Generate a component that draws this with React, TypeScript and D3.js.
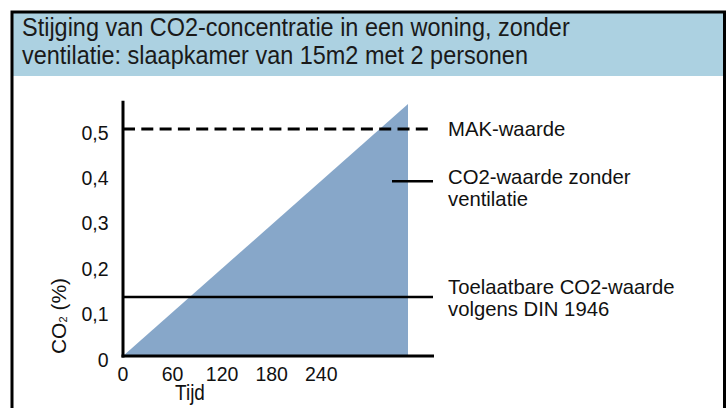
import React, { useRef, useEffect } from "react";
import * as d3 from "d3";

// chart data
const titleLines = [
  "Stijging van CO2-concentratie in een woning, zonder",
  "ventilatie: slaapkamer van 15m2 met 2 personen",
];
const timeTicks = [0, 60, 120, 180, 240];
const co2Ticks = [0, 0.1, 0.2, 0.3, 0.4, 0.5];
const co2TickLabels = ["0", "0,1", "0,2", "0,3", "0,4", "0,5"];
const riseTime = [0, 345];
const riseCo2 = [0, 0.555];
const makValue = 0.5;
const dinValue = 0.13;
const noteLabels = [
  ["MAK-waarde"],
  ["CO2-waarde zonder", "ventilatie"],
  ["Toelaatbare CO2-waarde", "volgens DIN 1946"],
];
const noteValues = [0.5, 0.385, 0.13];

const W = 728;
const H = 408;
const font = "'Liberation Sans', Arial, sans-serif";

const App = () => {
  const svgRef = useRef<SVGSVGElement>(null);

  useEffect(() => {
    const svg = d3.select(svgRef.current);
    svg.selectAll("*").remove();

    const x = d3.scaleLinear().domain([0, 345]).range([123, 408]);
    const y = d3.scaleLinear().domain([0, 0.5]).range([356, 129]);
    const xEnd = 434;

    // frame + header
    svg
      .append("rect")
      .attr("x", 12)
      .attr("y", 12)
      .attr("width", 712)
      .attr("height", 64)
      .attr("fill", "#acd1e1");
    svg
      .append("rect")
      .attr("x", 12)
      .attr("y", 12)
      .attr("width", 712.5)
      .attr("height", 420)
      .attr("fill", "none")
      .attr("stroke", "#000")
      .attr("stroke-width", 3);

    // condensed look: squeeze the regular face horizontally
    svg
      .append("g")
      .selectAll("text")
      .data(titleLines)
      .enter()
      .append("text")
      .attr("transform", (d, i) => `translate(22,${36 + i * 27.5}) scale(0.92,1)`)
      .text((d) => d)
      .style("font-family", font)
      .style("font-size", "25.5px")
      .attr("fill", "#1a1a1a");

    // area
    const pts = riseTime.map((t, i) => [t, riseCo2[i]] as [number, number]);
    const area = d3
      .area<[number, number]>()
      .x((d) => x(d[0]))
      .y0(y(0))
      .y1((d) => y(d[1]));
    svg.append("path").datum(pts).attr("d", area).attr("fill", "#87a7c9");

    // reference lines
    svg
      .append("line")
      .attr("x1", x(0))
      .attr("x2", xEnd - 1)
      .attr("y1", y(makValue))
      .attr("y2", y(makValue))
      .attr("stroke", "#000")
      .attr("stroke-width", 3)
      .attr("stroke-dasharray", "12 6.3");
    svg
      .append("line")
      .attr("x1", x(0))
      .attr("x2", xEnd - 1)
      .attr("y1", y(dinValue))
      .attr("y2", y(dinValue))
      .attr("stroke", "#000")
      .attr("stroke-width", 2.5);
    svg
      .append("line")
      .attr("x1", 392)
      .attr("x2", xEnd - 1)
      .attr("y1", y(noteValues[1]))
      .attr("y2", y(noteValues[1]))
      .attr("stroke", "#000")
      .attr("stroke-width", 2.5);

    // axes
    svg
      .append("line")
      .attr("x1", x(0))
      .attr("x2", x(0))
      .attr("y1", y(0.562))
      .attr("y2", y(0) + 1.5)
      .attr("stroke", "#000")
      .attr("stroke-width", 3);
    svg
      .append("line")
      .attr("x1", x(0) - 1.5)
      .attr("x2", xEnd)
      .attr("y1", y(0))
      .attr("y2", y(0))
      .attr("stroke", "#000")
      .attr("stroke-width", 3);

    svg
      .append("g")
      .selectAll("text")
      .data(co2Ticks)
      .enter()
      .append("text")
      .attr("x", 108.5)
      .attr("y", (d) => y(d) + 10.5)
      .attr("text-anchor", "end")
      .text((d, i) => co2TickLabels[i])
      .style("font-family", font)
      .style("font-size", "19.5px")
      .attr("fill", "#111");

    svg
      .append("g")
      .selectAll("text")
      .data(timeTicks)
      .enter()
      .append("text")
      .attr("x", (d) => x(d))
      .attr("y", 381)
      .attr("text-anchor", "middle")
      .text((d) => d)
      .style("font-family", font)
      .style("font-size", "19.5px")
      .attr("fill", "#111");

    svg
      .append("text")
      .attr("transform", "translate(190,400) scale(0.88,1)")
      .attr("text-anchor", "middle")
      .text("Tijd")
      .style("font-family", font)
      .style("font-size", "21.5px")
      .attr("fill", "#111");

    const yLabel = svg
      .append("text")
      .attr("transform", "translate(66,316) rotate(-90)")
      .attr("text-anchor", "middle")
      .style("font-family", font)
      .style("font-size", "21px")
      .attr("fill", "#111");
    yLabel.append("tspan").text("CO");
    yLabel
      .append("tspan")
      .text("2")
      .style("font-size", "11px")
      .attr("dy", 1);
    yLabel.append("tspan").text(" (%)").attr("dy", -1);

    // notes
    const noteDy = [7, 3, -3];
    noteLabels.forEach((lines, i) => {
      const g = svg.append("g");
      lines.forEach((line, j) => {
        g.append("text")
          .attr("x", 448)
          .attr("y", y(noteValues[i]) + noteDy[i] + j * 22)
          .text(line)
          .style("font-family", font)
          .style("font-size", "20.3px")
          .attr("fill", "#111");
      });
    });
  }, []);

  return (
    <svg
      ref={svgRef}
      width={W}
      height={H}
      style={{ position: "absolute", left: 0, top: 0, background: "#fff" }}
    />
  );
};

export default App;
